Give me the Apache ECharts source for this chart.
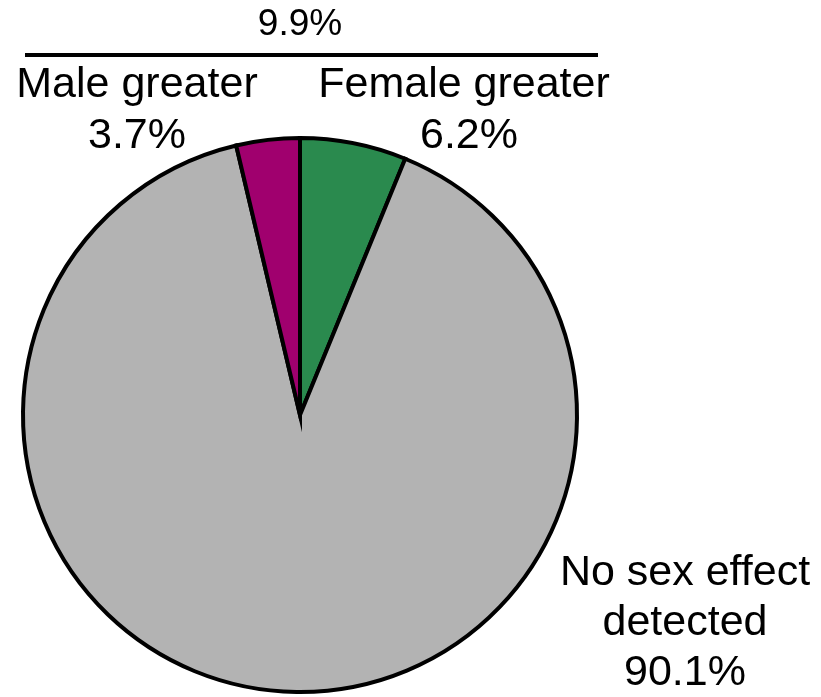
<!DOCTYPE html>
<html>
<head>
<meta charset="utf-8">
<script src="https://cdn.jsdelivr.net/npm/echarts@6/dist/echarts.min.js"></script>
<style>
html,body{margin:0;padding:0;background:#fff;}
#chart{width:821px;height:697px;}
</style>
</head>
<body>
<div id="chart"></div>
<script>
// Data (clockwise from 12 o'clock)
const categories = ['Female greater', 'No sex effect detected', 'Male greater'];
const values = [6.2, 90.1, 3.7];
const colors = ['#2a8a4e', '#b3b3b3', '#a0006e'];
const labelLines = [['Female greater'], ['No sex effect', 'detected'], ['Male greater']];
const combinedLabel = '9.9%';

const chart = echarts.init(document.getElementById('chart'), null, {renderer: 'canvas'});

const font = '"Liberation Sans", Arial, Helvetica, sans-serif';
function txt(str, x, y, size) {
  return {
    type: 'text', x: x, y: y, z: 10,
    style: {text: str, fill: '#000', font: size + 'px ' + font, align: 'center', verticalAlign: 'middle'}
  };
}

const fs = 43;
const graphics = [
  txt(combinedLabel, 300, 25, 37),
  {type: 'line', z: 10, shape: {x1: 25, y1: 55, x2: 598, y2: 55}, style: {stroke: '#000', lineWidth: 4}},
  // Male greater
  txt(labelLines[2][0], 137, 85, fs),
  txt(values[2].toFixed(1) + '%', 137, 136, fs),
  // Female greater
  txt(labelLines[0][0], 464, 85, fs),
  txt(values[0].toFixed(1) + '%', 469, 136, fs),
  // No sex effect
  txt(labelLines[1][0], 685, 573, fs),
  txt(labelLines[1][1], 685, 623, fs),
  txt(values[1].toFixed(1) + '%', 685, 673, fs)
];

chart.setOption({
  backgroundColor: '#fff',
  animation: false,
  series: [{
    type: 'pie',
    center: [300, 415],
    radius: [0, 277],
    startAngle: 90,
    clockwise: true,
    label: {show: false},
    labelLine: {show: false},
    emphasis: {disabled: true},
    itemStyle: {borderColor: '#000', borderWidth: 4, borderJoin: 'miter', borderMiterLimit: 20},
    data: categories.map((c, i) => ({name: c, value: values[i], itemStyle: {color: colors[i]}}))
  }],
  graphic: graphics
});
</script>
</body>
</html>
